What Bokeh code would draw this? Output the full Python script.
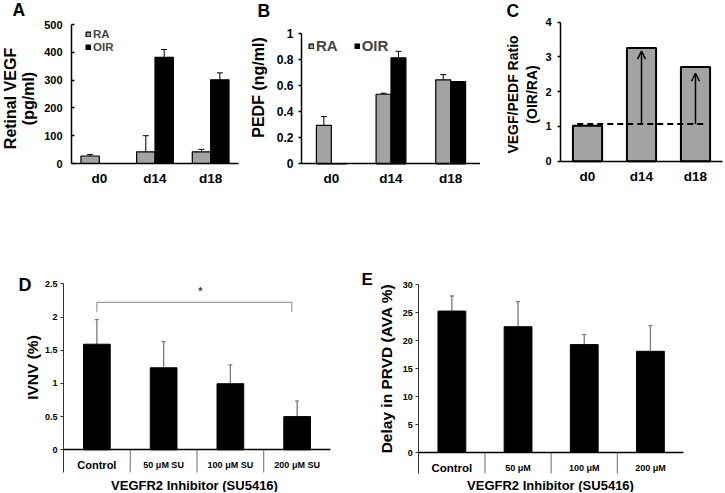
import numpy as np
from bokeh.plotting import figure
from bokeh.layouts import row, column
from bokeh.models import (Range1d, LinearAxis, FixedTicker, NumeralTickFormatter, Label,
                          Whisker, TeeHead, ColumnDataSource, Arrow, OpenHead, Legend, LegendItem)
from bokeh.embed import file_html
from bokeh.resources import INLINE

FONT = "Liberation Sans"
GRAY = "#a3a3a3"

# ---------------- data ----------------
days = ["d0", "d14", "d18"]
vegf_ra = [27, 42, 42]
vegf_ra_err = [5, 58, 9]
vegf_oir = [0, 382, 301]
vegf_oir_err = [0, 28, 25]
vegf_ticks = [0, 100, 200, 300, 400, 500]

pedf_ra = [0.295, 0.535, 0.646]
pedf_ra_err = [0.068, 0.008, 0.04]
pedf_oir = [0.0, 0.815, 0.632]
pedf_oir_err = [0.0, 0.05, 0.0]
pedf_ticks = [0, 0.2, 0.4, 0.6, 0.8, 1.0]

ratio = [1.02, 3.26, 2.71]
ratio_ref = 1.07
ratio_arrow_days = ["d14", "d18"]
ratio_arrow_tip = [3.17, 2.53]
ratio_ticks = [0, 1, 2, 3, 4]

doses_ivnv = ["Control", "50 μM SU", "100 μM SU", "200 μM SU"]
ivnv = [1.59, 1.235, 0.995, 0.50]
ivnv_err = [0.37, 0.395, 0.285, 0.235]
ivnv_ticks = [0, 0.5, 1, 1.5, 2, 2.5]
ivnv_sig_pair = ["Control", "200 μM SU"]
ivnv_sig_bar = 2.22
ivnv_sig_leg = 2.08
ivnv_star = 2.39

doses_ava = ["Control", "50 μM", "100 μM", "200 μM"]
ava = [25.3, 22.5, 19.3, 18.1]
ava_err = [2.7, 4.5, 1.8, 4.6]
ava_ticks = [0, 5, 10, 15, 20, 25, 30]

HALF_PI = np.pi / 2


# ---------------- helpers ----------------
class Panel:
    """A figure whose frame covers the whole canvas; axes are drawn at fixed locations."""

    def __init__(self, fig, frame, xdom, ydom):
        fx, fy, w, h = fig
        l, t, r, b = frame
        self.fx, self.fy, self.w, self.h = fx, fy, w, h
        sx = (r - l) / (xdom[1] - xdom[0])
        sy = (b - t) / (ydom[1] - ydom[0])
        self.sy = sy
        x0 = xdom[0] - (l - fx) / sx
        x1 = xdom[1] + (fx + w - r) / sx
        y1 = ydom[1] + (t - fy) / sy
        y0 = ydom[0] - (fy + h - b) / sy
        p = figure(width=w, height=h, x_range=Range1d(x0, x1), y_range=Range1d(y0, y1),
                   output_backend="svg", toolbar_location=None,
                   x_axis_location=None, y_axis_location=None,
                   min_border_left=0, min_border_right=0, min_border_top=0, min_border_bottom=0)
        p.outline_line_color = None
        p.xgrid.visible = False
        p.ygrid.visible = False
        p.background_fill_color = "white"
        p.border_fill_color = "white"
        self.p = p
        self.xdom, self.ydom = xdom, ydom

    def px_to_dy(self, px):
        return px / self.sy

    def label(self, text, px, py, size, angle=0.0, align="left", baseline="top",
              line_height=1.2):
        self.p.add_layout(Label(x=px - self.fx, y=self.fy + self.h - py,
                                x_units="screen", y_units="screen",
                                text=text, text_font=FONT, text_font_style="bold",
                                text_font_size=f"{size}px", angle=angle, text_align=align,
                                text_baseline=baseline, text_line_height=line_height,
                                text_color="black"))

    def y_axis(self, ticks, fmt, size, tick_in, tick_out, standoff, color="black", lw=1.5,
               bottom=None):
        lo = self.ydom[0] if bottom is None else bottom
        ax = LinearAxis(fixed_location=self.xdom[0], bounds=(lo, self.ydom[1]),
                        ticker=FixedTicker(ticks=ticks, minor_ticks=[]),
                        formatter=NumeralTickFormatter(format=fmt))
        ax.major_label_text_font = FONT
        ax.major_label_text_font_style = "bold"
        ax.major_label_text_font_size = f"{size}px"
        ax.major_label_text_color = "black"
        ax.major_tick_in = tick_in
        ax.major_tick_out = tick_out
        ax.major_label_standoff = standoff
        ax.axis_line_color = color
        ax.axis_line_width = lw
        ax.major_tick_line_color = color
        ax.major_tick_line_width = lw
        ax.minor_tick_line_color = None
        self.p.add_layout(ax, "left")

    def x_axis(self, pos, labels, size, standoff, line=True, lw=1.5):
        ax = LinearAxis(fixed_location=0, bounds=self.xdom,
                        ticker=FixedTicker(ticks=[float(v) for v in pos], minor_ticks=[]),
                        major_label_overrides={float(k): v for k, v in zip(pos, labels)})
        ax.major_label_text_font = FONT
        ax.major_label_text_font_style = "bold"
        ax.major_label_text_font_size = f"{size}px"
        ax.major_label_text_color = "black"
        ax.major_tick_line_color = None
        ax.major_tick_in = 0
        ax.major_tick_out = 0
        ax.minor_tick_line_color = None
        ax.major_label_standoff = int(standoff)
        ax.axis_line_color = "black" if line else None
        ax.axis_line_width = lw
        self.p.add_layout(ax, "below")


def whiskers(p, x, vals, errs, color, lw=1.0, head=6):
    xs = [float(xi) for xi, e in zip(x, errs) if e > 0]
    lo = [v for v, e in zip(vals, errs) if e > 0]
    hi = [v + e for v, e in zip(vals, errs) if e > 0]
    src = ColumnDataSource(dict(x=xs, lo=lo, hi=hi))
    p.add_layout(Whisker(source=src, base="x", lower="lo", upper="hi", dimension="height",
                         line_color=color, line_width=lw, lower_head=None,
                         upper_head=TeeHead(size=head, line_color=color, line_width=lw)))


def legend(p, rs, labels, loc, orient, size, spacing):
    p.add_layout(Legend(items=[LegendItem(label=l, renderers=[r]) for l, r in zip(labels, rs)],
                        location=loc, orientation=orient, glyph_width=6, glyph_height=6,
                        label_standoff=2, spacing=spacing, padding=0, margin=0,
                        border_line_color=None, background_fill_alpha=0,
                        label_text_font=FONT, label_text_font_style="bold",
                        label_text_font_size=f"{size}px", label_height=12))


# ---------------- Panel A ----------------
A = Panel((0, 0, 240, 238), (71, 24, 238, 163), (0, len(days)), (0, vegf_ticks[-1]))
pA = A.p
posA = np.arange(len(days)) + 0.5
bwA = 0.33
raA = posA - bwA / 2
oiA = posA + bwA / 2
rA1 = pA.vbar(x=raA, top=vegf_ra, width=bwA, fill_color=GRAY, line_color="black", line_width=1.2)
rA2 = pA.vbar(x=oiA, top=vegf_oir, width=bwA, fill_color="black", line_color="black", line_width=1.2)
whiskers(pA, raA, vegf_ra, vegf_ra_err, "black")
whiskers(pA, oiA, vegf_oir, vegf_oir_err, "black")
A.y_axis(vegf_ticks, "0", 11, 3, 0, 9)
A.x_axis(posA, days, 13.5, 7)
legend(pA, [rA1, rA2], ["RA", "OIR"], (85, 185), "vertical", 11.5, 1)
A.label("A", 12, -1, 17.5)
A.label("Retinal VEGF\n(pg/ml)", 19, 98, 16, angle=HALF_PI, align="center",
        baseline="middle", line_height=1.05)

# ---------------- Panel B ----------------
B = Panel((240, 0, 240, 238), (301, 33.3, 480, 163.3), (0, len(days)), (0, pedf_ticks[-1]))
pB = B.p
posB = np.arange(len(days)) + 0.5
bwB = 0.25
raB = posB - bwB / 2
oiB = posB + bwB / 2
rB1 = pB.vbar(x=raB, top=pedf_ra, width=bwB, fill_color=GRAY, line_color="black", line_width=1.2)
rB2 = pB.vbar(x=oiB, top=pedf_oir, width=bwB, fill_color="black", line_color="black", line_width=1.2)
whiskers(pB, raB, pedf_ra, pedf_ra_err, "black")
whiskers(pB, oiB, pedf_oir, pedf_oir_err, "black")
B.y_axis(pedf_ticks, "0.[0]", 12, 0, 3, 5)
B.x_axis(posB, days, 13.5, 7)
legend(pB, [rB1, rB2], ["RA", "OIR"], (68, 184), "horizontal", 15, 16)
B.label("B", 257, 0, 17.5)
B.label("PEDF (ng/ml)", 257.5, 87, 16, angle=HALF_PI, align="center", baseline="middle")

# ---------------- Panel C ----------------
C = Panel((480, 0, 244, 238), (560, 21.7, 722, 160.7), (0, len(days)), (0, ratio_ticks[-1]))
pC = C.p
posC = np.arange(len(days)) + 0.5
pC.vbar(x=posC, top=ratio, width=0.54, fill_color=GRAY, line_color="black", line_width=2)
pC.line(x=[posC[0] - 0.19, posC[-1] + 0.17], y=[ratio_ref, ratio_ref], line_color="black",
        line_width=2, line_dash="6 4")
arrow_x = [float(posC[days.index(d)]) for d in ratio_arrow_days]
asrc = ColumnDataSource(dict(x=arrow_x, y0=[ratio_ref] * len(arrow_x), y1=ratio_arrow_tip))
pC.add_layout(Arrow(source=asrc, x_start="x", y_start="y0", x_end="x", y_end="y1",
                    line_color="black", line_width=1.5,
                    end=OpenHead(size=8, line_color="black", line_width=1.5)))
C.y_axis(ratio_ticks, "0", 11, 0, 3, 6)
C.x_axis(posC, days, 13.5, 8)
C.label("C", 506, 0, 17.5)
C.label("VEGF/PEDF Ratio\n(OIR/RA)", 522, 94, 14, angle=HALF_PI, align="center",
        baseline="middle", line_height=1.2)

# ---------------- Panel D ----------------
D = Panel((0, 238, 360, 254), (63, 283.3, 330, 449.3), (0, len(doses_ivnv)), (0, ivnv_ticks[-1]))
pD = D.p
posD = np.arange(len(doses_ivnv)) + 0.5
tableD = -D.px_to_dy(22.7)
pD.vbar(x=posD, top=ivnv, width=0.4, fill_color="black", line_color="black")
whiskers(pD, posD, ivnv, ivnv_err, "#7a7a7a", lw=1.3, head=4)
bD = np.arange(1, len(doses_ivnv))
pD.segment(x0=bD, y0=0, x1=bD, y1=tableD, line_color="#6e6e6e", line_width=1)
D.y_axis(ivnv_ticks, "0.[0]", 9, 0, 3, 3, color="#333333", lw=1, bottom=tableD)
D.x_axis(posD, [doses_ivnv[0]] + [""] * (len(doses_ivnv) - 1), 11, 9)
D.x_axis(posD, [""] + doses_ivnv[1:], 9, 10, line=False)
sx0 = float(posD[doses_ivnv.index(ivnv_sig_pair[0])])
sx1 = float(posD[doses_ivnv.index(ivnv_sig_pair[1])]) - 0.08
pD.line(x=[sx0, sx0, sx1, sx1], y=[ivnv_sig_leg, ivnv_sig_bar, ivnv_sig_bar, ivnv_sig_leg],
        line_color="#9a9a9a", line_width=1.2)
pD.add_layout(Label(x=(sx0 + sx1) / 2 + 0.09, y=ivnv_star, text="*", text_align="center",
                    text_baseline="middle", text_font=FONT, text_font_style="bold",
                    text_font_size="11px"))
D.label("D", 18, 274, 18)
D.label("IVNV (%)", 31.5, 367, 15.5, angle=HALF_PI, align="center", baseline="middle")
D.label("VEGFR2 Inhibitor (SU5416)", 194, 485, 13, align="center", baseline="middle")

# ---------------- Panel E ----------------
E = Panel((360, 238, 364, 254), (418.3, 284.3, 683, 452), (0, len(doses_ava)), (0, ava_ticks[-1]))
pE = E.p
posE = np.arange(len(doses_ava)) + 0.5
tableE = -E.px_to_dy(21)
pE.vbar(x=posE, top=ava, width=0.42, fill_color="black", line_color="black")
whiskers(pE, posE, ava, ava_err, "#7a7a7a", lw=1.3, head=4)
bE = np.arange(1, len(doses_ava))
pE.segment(x0=bE, y0=0, x1=bE, y1=tableE, line_color="#6e6e6e", line_width=1)
E.y_axis(ava_ticks, "0", 9, 0, 3, 3, color="#333333", lw=1, bottom=tableE)
E.x_axis(posE, [doses_ava[0]] + [""] * (len(doses_ava) - 1), 11.5, 9)
E.x_axis(posE, [""] + doses_ava[1:], 9, 10, line=False)
E.label("E", 361, 269, 17)
E.label("Delay in PRVD (AVA %)", 385.5, 368, 15.5, angle=HALF_PI, align="center",
        baseline="middle")
E.label("VEGFR2 Inhibitor (SU5416)", 550, 485, 13, align="center", baseline="middle")

layout = column(row(pA, pB, pC), row(pD, pE))
open("out.html", "w").write(file_html(layout, INLINE))
